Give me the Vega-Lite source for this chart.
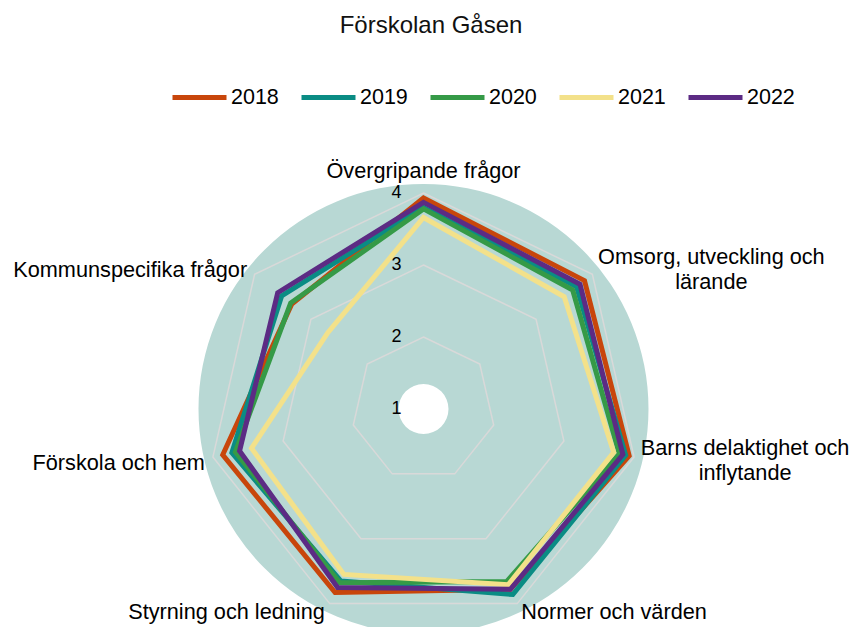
{
  "$schema": "https://vega.github.io/schema/vega-lite/v6.json",
  "width": 852,
  "height": 487,
  "autosize": {"type": "none"},
  "padding": {"left": 0, "top": 140, "right": 0, "bottom": 0},
  "background": "white",
  "title": {"text": "Förskolan Gåsen", "fontSize": 24, "font": "Liberation Sans", "fontWeight": "normal", "color": "#111111", "anchor": "middle", "offset": 30, "dx": 5},
  "config": {"view": {"stroke": null}, "font": "Liberation Sans", "text": {"font": "Liberation Sans", "color": "#000000"}},
  "datasets": {
    "scores": [
      {"year": "2018", "category": "Övergripande frågor", "idx": 0, "value": 3.93},
      {"year": "2018", "category": "Omsorg, utveckling och lärande", "idx": 1, "value": 3.86},
      {"year": "2018", "category": "Barns delaktighet och inflytande", "idx": 2, "value": 3.93},
      {"year": "2018", "category": "Normer och värden", "idx": 3, "value": 3.78},
      {"year": "2018", "category": "Styrning och ledning", "idx": 4, "value": 3.83},
      {"year": "2018", "category": "Förskola och hem", "idx": 5, "value": 3.86},
      {"year": "2018", "category": "Kommunspecifika frågor", "idx": 6, "value": 3.34},
      {"year": "2019", "category": "Övergripande frågor", "idx": 0, "value": 3.80},
      {"year": "2019", "category": "Omsorg, utveckling och lärande", "idx": 1, "value": 3.72},
      {"year": "2019", "category": "Barns delaktighet och inflytande", "idx": 2, "value": 3.88},
      {"year": "2019", "category": "Normer och värden", "idx": 3, "value": 3.86},
      {"year": "2019", "category": "Styrning och ledning", "idx": 4, "value": 3.65},
      {"year": "2019", "category": "Förskola och hem", "idx": 5, "value": 3.73},
      {"year": "2019", "category": "Kommunspecifika frågor", "idx": 6, "value": 3.52},
      {"year": "2020", "category": "Övergripande frågor", "idx": 0, "value": 3.78},
      {"year": "2020", "category": "Omsorg, utveckling och lärande", "idx": 1, "value": 3.65},
      {"year": "2020", "category": "Barns delaktighet och inflytande", "idx": 2, "value": 3.79},
      {"year": "2020", "category": "Normer och värden", "idx": 3, "value": 3.66},
      {"year": "2020", "category": "Styrning och ledning", "idx": 4, "value": 3.68},
      {"year": "2020", "category": "Förskola och hem", "idx": 5, "value": 3.68},
      {"year": "2020", "category": "Kommunspecifika frågor", "idx": 6, "value": 3.36},
      {"year": "2021", "category": "Övergripande frågor", "idx": 0, "value": 3.66},
      {"year": "2021", "category": "Omsorg, utveckling och lärande", "idx": 1, "value": 3.50},
      {"year": "2021", "category": "Barns delaktighet och inflytande", "idx": 2, "value": 3.71},
      {"year": "2021", "category": "Normer och värden", "idx": 3, "value": 3.71},
      {"year": "2021", "category": "Styrning och ledning", "idx": 4, "value": 3.55},
      {"year": "2021", "category": "Förskola och hem", "idx": 5, "value": 3.45},
      {"year": "2021", "category": "Kommunspecifika frågor", "idx": 6, "value": 2.70},
      {"year": "2022", "category": "Övergripande frågor", "idx": 0, "value": 3.87},
      {"year": "2022", "category": "Omsorg, utveckling och lärande", "idx": 1, "value": 3.78},
      {"year": "2022", "category": "Barns delaktighet och inflytande", "idx": 2, "value": 3.84},
      {"year": "2022", "category": "Normer och värden", "idx": 3, "value": 3.78},
      {"year": "2022", "category": "Styrning och ledning", "idx": 4, "value": 3.75},
      {"year": "2022", "category": "Förskola och hem", "idx": 5, "value": 3.62},
      {"year": "2022", "category": "Kommunspecifika frågor", "idx": 6, "value": 3.59}
    ],
    "grid": [
      {"level": 2, "idx": 0}, {"level": 2, "idx": 1}, {"level": 2, "idx": 2}, {"level": 2, "idx": 3}, {"level": 2, "idx": 4}, {"level": 2, "idx": 5}, {"level": 2, "idx": 6},
      {"level": 3, "idx": 0}, {"level": 3, "idx": 1}, {"level": 3, "idx": 2}, {"level": 3, "idx": 3}, {"level": 3, "idx": 4}, {"level": 3, "idx": 5}, {"level": 3, "idx": 6},
      {"level": 4, "idx": 0}, {"level": 4, "idx": 1}, {"level": 4, "idx": 2}, {"level": 4, "idx": 3}, {"level": 4, "idx": 4}, {"level": 4, "idx": 5}, {"level": 4, "idx": 6}
    ],
    "ticks": [{"level": 1}, {"level": 2}, {"level": 3}, {"level": 4}],
    "cats": [
      {"idx": 0, "label": "Övergripande frågor"},
      {"idx": 1, "label": "Omsorg, utveckling och\nlärande"},
      {"idx": 2, "label": "Barns delaktighet och\ninflytande"},
      {"idx": 3, "label": "Normer och värden"},
      {"idx": 4, "label": "Styrning och ledning"},
      {"idx": 5, "label": "Förskola och hem"},
      {"idx": 6, "label": "Kommunspecifika frågor"}
    ]
  },
  "layer": [
    {
      "data": {"values": [{"ring": 1}]},
      "mark": {"type": "arc", "radius": 225, "radius2": 25, "theta": 0, "theta2": 6.2832, "fill": "#B8D8D4"},
      "encoding": {
        "x": {"datum": 0, "type": "quantitative", "scale": {"domain": [-5.8819, 5.9514], "nice": false, "zero": false}, "axis": null},
        "y": {"datum": 0, "type": "quantitative", "scale": {"domain": [-3.0278, 3.7361], "nice": false, "zero": false}, "axis": null}
      }
    },
    {
      "data": {"name": "grid"},
      "transform": [
        {"calculate": "(datum.level-1)*sin(datum.idx*2*PI/7)", "as": "px"},
        {"calculate": "(datum.level-1)*cos(datum.idx*2*PI/7)", "as": "py"}
      ],
      "mark": {"type": "line", "interpolate": "linear-closed", "stroke": "#D9D9D9", "strokeWidth": 1.5},
      "encoding": {
        "x": {"field": "px", "type": "quantitative"},
        "y": {"field": "py", "type": "quantitative"},
        "detail": {"field": "level"},
        "order": {"field": "idx"}
      }
    },
    {
      "data": {"name": "scores"},
      "transform": [
        {"calculate": "(datum.value-1)*sin(datum.idx*2*PI/7)", "as": "px"},
        {"calculate": "(datum.value-1)*cos(datum.idx*2*PI/7)", "as": "py"}
      ],
      "mark": {"type": "line", "interpolate": "linear-closed", "strokeWidth": 5, "strokeJoin": "miter", "strokeMiterLimit": 10},
      "encoding": {
        "x": {"field": "px", "type": "quantitative"},
        "y": {"field": "py", "type": "quantitative"},
        "order": {"field": "idx"},
        "color": {
          "field": "year", "type": "nominal",
          "scale": {"domain": ["2018", "2019", "2020", "2021", "2022"], "range": ["#C8460B", "#0A8C84", "#359A47", "#F3E18A", "#5C2B84"]},
          "legend": {"orient": "none", "legendX": 170, "legendY": -72, "direction": "horizontal", "columns": 5, "title": null, "symbolType": "stroke", "symbolSize": 2916, "symbolStrokeWidth": 5, "labelFontSize": 21.5, "labelFont": "Liberation Sans", "labelColor": "#000000", "columnPadding": 12, "labelOffset": 2, "padding": 0}
        }
      }
    },
    {
      "data": {"name": "ticks"},
      "transform": [{"calculate": "datum.level-1", "as": "py"}],
      "mark": {"type": "text", "align": "right", "baseline": "middle", "dx": -22, "fontSize": 18},
      "encoding": {
        "x": {"datum": 0, "type": "quantitative"},
        "y": {"field": "py", "type": "quantitative"},
        "text": {"field": "level", "type": "quantitative", "format": "d"}
      }
    },
    {
      "data": {"name": "cats"},
      "transform": [
        {"filter": "datum.idx == 0"},
        {"calculate": "3*sin(datum.idx*2*PI/7)", "as": "px"},
        {"calculate": "3*cos(datum.idx*2*PI/7)", "as": "py"}
      ],
      "mark": {"type": "text", "align": "center", "baseline": "alphabetic", "dx": 0, "dy": -15, "fontSize": 21.7},
      "encoding": {"x": {"field": "px", "type": "quantitative"}, "y": {"field": "py", "type": "quantitative"}, "text": {"field": "label"}}
    },
    {
      "data": {"name": "cats"},
      "transform": [
        {"filter": "datum.idx == 1"},
        {"calculate": "3*sin(datum.idx*2*PI/7)", "as": "px"},
        {"calculate": "3*cos(datum.idx*2*PI/7)", "as": "py"}
      ],
      "mark": {"type": "text", "align": "center", "baseline": "alphabetic", "dx": 119, "dy": -10, "fontSize": 21.7, "lineBreak": "\n", "lineHeight": 25},
      "encoding": {"x": {"field": "px", "type": "quantitative"}, "y": {"field": "py", "type": "quantitative"}, "text": {"field": "label"}}
    },
    {
      "data": {"name": "cats"},
      "transform": [
        {"filter": "datum.idx == 2"},
        {"calculate": "3*sin(datum.idx*2*PI/7)", "as": "px"},
        {"calculate": "3*cos(datum.idx*2*PI/7)", "as": "py"}
      ],
      "mark": {"type": "text", "align": "center", "baseline": "alphabetic", "dx": 111, "dy": -2.5, "fontSize": 21.7, "lineBreak": "\n", "lineHeight": 25},
      "encoding": {"x": {"field": "px", "type": "quantitative"}, "y": {"field": "py", "type": "quantitative"}, "text": {"field": "label"}}
    },
    {
      "data": {"name": "cats"},
      "transform": [
        {"filter": "datum.idx == 3"},
        {"calculate": "3*sin(datum.idx*2*PI/7)", "as": "px"},
        {"calculate": "3*cos(datum.idx*2*PI/7)", "as": "py"}
      ],
      "mark": {"type": "text", "align": "left", "baseline": "alphabetic", "dx": 4, "dy": 15, "fontSize": 21.7},
      "encoding": {"x": {"field": "px", "type": "quantitative"}, "y": {"field": "py", "type": "quantitative"}, "text": {"field": "label"}}
    },
    {
      "data": {"name": "cats"},
      "transform": [
        {"filter": "datum.idx == 4"},
        {"calculate": "3*sin(datum.idx*2*PI/7)", "as": "px"},
        {"calculate": "3*cos(datum.idx*2*PI/7)", "as": "py"}
      ],
      "mark": {"type": "text", "align": "right", "baseline": "alphabetic", "dx": -5, "dy": 15, "fontSize": 21.7},
      "encoding": {"x": {"field": "px", "type": "quantitative"}, "y": {"field": "py", "type": "quantitative"}, "text": {"field": "label"}}
    },
    {
      "data": {"name": "cats"},
      "transform": [
        {"filter": "datum.idx == 5"},
        {"calculate": "3*sin(datum.idx*2*PI/7)", "as": "px"},
        {"calculate": "3*cos(datum.idx*2*PI/7)", "as": "py"}
      ],
      "mark": {"type": "text", "align": "right", "baseline": "alphabetic", "dx": -8, "dy": 12.5, "fontSize": 21.7},
      "encoding": {"x": {"field": "px", "type": "quantitative"}, "y": {"field": "py", "type": "quantitative"}, "text": {"field": "label"}}
    },
    {
      "data": {"name": "cats"},
      "transform": [
        {"filter": "datum.idx == 6"},
        {"calculate": "3*sin(datum.idx*2*PI/7)", "as": "px"},
        {"calculate": "3*cos(datum.idx*2*PI/7)", "as": "py"}
      ],
      "mark": {"type": "text", "align": "right", "baseline": "alphabetic", "dx": -7.5, "dy": 3, "fontSize": 21.7},
      "encoding": {"x": {"field": "px", "type": "quantitative"}, "y": {"field": "py", "type": "quantitative"}, "text": {"field": "label"}}
    }
  ]
}
